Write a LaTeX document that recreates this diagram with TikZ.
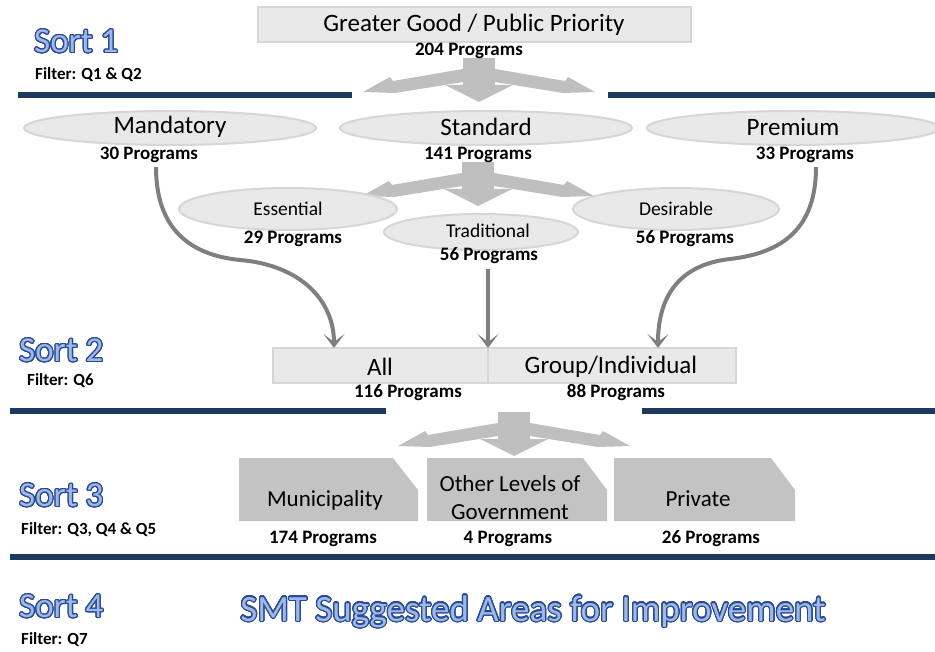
\documentclass[tikz,border=0pt]{standalone}
\usepackage{fontspec}
\setmainfont{Carlito}
\usepackage{contour}
\contourlength{1.2pt}
\contournumber{24}
\usetikzlibrary{arrows.meta,shapes.geometric}
\definecolor{navy}{HTML}{1B3A5E}
\definecolor{arrowgray}{HTML}{BFBFBF}
\definecolor{curvegray}{HTML}{7F7F7F}
\definecolor{shapefill}{HTML}{E9E9E9}
\definecolor{shapeline}{HTML}{D6D6D6}
\definecolor{boxgray}{HTML}{C3C3C3}
\definecolor{titlefill}{HTML}{9DB9E8}
\definecolor{titleline}{HTML}{2B4A94}
\tikzset{
  big/.style={font=\fontsize{25}{30}\selectfont, inner sep=0pt},
  mid/.style={font=\fontsize{23}{28}\selectfont, inner sep=0pt},
  small/.style={font=\fontsize{19.5}{23}\selectfont, inner sep=0pt},
  prog/.style={font=\bfseries\fontsize{19}{23}\selectfont, inner sep=0pt},
  filt/.style={font=\bfseries\fontsize{17}{20}\selectfont, inner sep=0pt, anchor=west},
  sorttitle/.style={font=\fontsize{35}{42}\selectfont, text=titlefill, inner sep=0pt, anchor=west},
  rbox/.style={rectangle, fill=shapefill, draw=shapeline, line width=2pt, inner sep=0pt},
  oval/.style={ellipse, fill=shapefill, draw=shapeline, line width=2pt, inner sep=0pt},
  navyline/.style={draw=navy, line width=5.5pt},
  curve/.style={draw=curvegray, line width=4pt, -{Stealth[length=14pt,width=21pt,inset=8pt]}},
  snip/.style={fill=boxgray},
  threeway/.pic={
    \fill[arrowgray] (-16,0) rectangle (16,28);
    \fill[arrowgray] (-34,27) -- (34,27) -- (0,44) -- cycle;
    \fill[arrowgray] (-16,11) -- (-86,23) -- (-89,19) -- (-116,34) -- (-84,35) -- (-16,24) -- cycle;
    \fill[arrowgray] (16,11) -- (86,23) -- (89,19) -- (116,34) -- (84,35) -- (16,24) -- cycle;
  }
}
\begin{document}
\begin{tikzpicture}[x=1pt,y=-1pt]
\useasboundingbox (0,0) rectangle (935,652);

% separator lines
\coordinate (l1a) at (18,95); \coordinate (l1b) at (352,95);
\coordinate (l1c) at (608,95); \coordinate (l1d) at (935,95);
\draw[navyline] (l1a) -- (l1b); \draw[navyline] (l1c) -- (l1d);
\coordinate (l2a) at (10,411); \coordinate (l2b) at (386,411);
\coordinate (l2c) at (642,411); \coordinate (l2d) at (935,411);
\draw[navyline] (l2a) -- (l2b); \draw[navyline] (l2c) -- (l2d);
\coordinate (l3a) at (10,557); \coordinate (l3b) at (935,557);
\draw[navyline] (l3a) -- (l3b);

% three-way arrows
\pic at (479,58) {threeway};
\pic at (478,162) {threeway};
\pic at (514,412) {threeway};

% Sort 1
\node[sorttitle] (s1) at (34,42) {\contour{titleline}{Sort 1}};
\node[filt] (f1) at (35,75) {Filter: Q1 \& Q2};
\node[rbox, minimum width=433pt, minimum height=35pt] (gg) at (474.5,24.5) {};
\node[big] (ggt) at (474,25) {Greater Good / Public Priority};
\node[prog] (ggp) at (469,51) {204 Programs};

\node[oval, minimum width=292pt, minimum height=34pt] (mand) at (170,128) {};
\node[big] at ([yshift=1pt]mand.center) {Mandatory};
\node[oval, minimum width=292pt, minimum height=34pt] (stan) at (486,128) {};
\node[big] at ([yshift=1pt]stan.center) {Standard};
\node[oval, minimum width=292pt, minimum height=34pt] (prem) at (793,128) {};
\node[big] at ([yshift=1pt]prem.center) {Premium};
\node[prog] (mandp) at (149,155) {30 Programs};
\node[prog] (stanp) at (478,155) {141 Programs};
\node[prog] (premp) at (805,155) {33 Programs};

\node[oval, minimum width=218pt, minimum height=42pt] (ess) at (288,209) {};
\node[small] at (ess.center) {Essential};
\node[oval, minimum width=206pt, minimum height=42pt] (des) at (676,209) {};
\node[small] at (des.center) {Desirable};
\node[oval, minimum width=194pt, minimum height=36pt] (trad) at (481,232) {};
\node[small] at (488,231) {Traditional};
\node[prog] (essp) at (293,239) {29 Programs};
\node[prog] (desp) at (685,239) {56 Programs};
\node[prog] (tradp) at (489,256) {56 Programs};

% Sort 2
\node[sorttitle] (s2) at (19,351) {\contour{titleline}{Sort 2}};
\node[filt] (f2) at (27,381) {Filter: Q6};
\node[rbox, minimum width=215pt, minimum height=35pt] (allb) at (380.5,365.5) {};
\node[rbox, minimum width=248pt, minimum height=35pt] (grpb) at (612,365.5) {};
\node[big] at (380,367) {All};
\node[big] at (611,367) {Group/Individual};
\node[prog] (allp) at (408,393) {116 Programs};
\node[prog] (grpp) at (616,393) {88 Programs};

% connectors into Sort 2
\coordinate (allin) at (334,348);
\coordinate (midin) at (488,348);
\coordinate (grpin) at (658,348);
\draw[curve] ([xshift=7pt,yshift=-4pt]mandp.south) .. controls +(0,62) and (190,255) .. (240,260)
  .. controls (300,265) and (334,300) .. (allin);
\draw[curve] ([xshift=11pt,yshift=-4pt]premp.south) .. controls +(0,62) and (782,253) .. (730,259)
  .. controls (676,265) and (658,300) .. (grpin);
\draw[curve] ([yshift=-5pt]tradp.south -| midin) -- (midin);

% Sort 3
\node[sorttitle] (s3) at (19,496) {\contour{titleline}{Sort 3}};
\node[filt] (f3) at (21,530) {Filter: Q3, Q4 \& Q5};
\fill[snip] (239,458) -- (393,458) -- (418,490) -- (418,521) -- (239,521) -- cycle;
\fill[snip] (427,458) -- (583,458) -- (607,490) -- (607,521) -- (427,521) -- cycle;
\fill[snip] (614,458) -- (771,458) -- (795,490) -- (795,521) -- (614,521) -- cycle;
\node[mid] (muni) at (325,500) {Municipality};
\node[mid, align=center, font=\fontsize{23}{28}\selectfont] (olg) at (510,498) {Other Levels of\\Government};
\node[mid] (priv) at (698,499) {Private};
\node[prog] (munip) at (323,539) {174 Programs};
\node[prog] (olgp) at (508,539) {4 Programs};
\node[prog] (privp) at (711,539) {26 Programs};

% Sort 4
\node[sorttitle] (s4) at (19,607) {\contour{titleline}{Sort 4}};
\node[filt] (f4) at (21,640) {Filter: Q7};
\node[font=\fontsize{37}{44}\selectfont, text=titlefill, inner sep=0pt] (smt) at (533,612) {\contour{titleline}{SMT Suggested Areas for Improvement}};
\end{tikzpicture}
\end{document}
